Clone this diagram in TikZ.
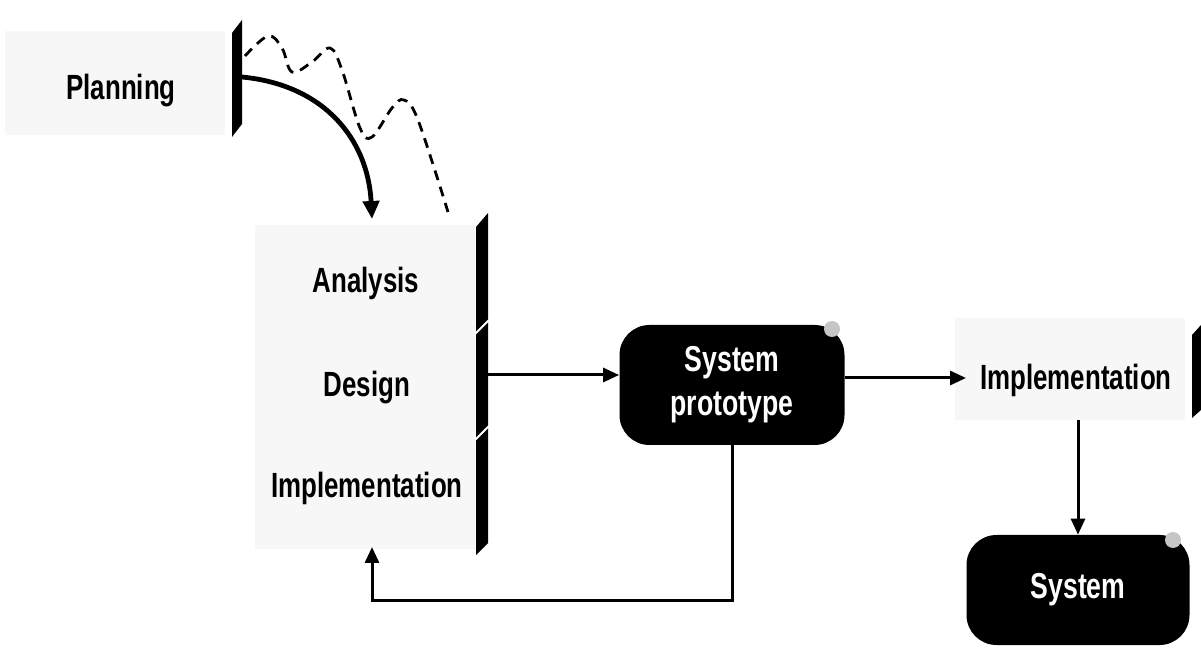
\documentclass[tikz,border=0pt]{standalone}
\usepackage{fontspec}
\setmainfont{Liberation Sans}[FakeStretch=0.74]
\usetikzlibrary{arrows.meta}
\begin{document}
\begin{tikzpicture}[x=0.5pt,y=-0.5pt,
  lbl/.style={font=\bfseries\fontsize{17.5}{20}\selectfont, inner sep=0pt, anchor=base},
  stip/.style={fill=gray!6, draw=none, inner sep=0pt},
  bar/.style={fill=black},
  blackbox/.style={fill=black, text=white, rounded corners=15pt, inner sep=0pt,
    font=\bfseries\fontsize{18}{22}\selectfont, align=center},
  arr/.style={line width=1.5pt, -{Triangle[length=8pt,width=7pt]}},
  bigarr/.style={line width=2.4pt, -{Triangle[length=9pt,width=8pt]}},
  wavy/.style={line width=1.4pt, dash pattern=on 5pt off 3.5pt}
]
\useasboundingbox (0,0) rectangle (1201,652);

% stippled backgrounds
\node[stip, minimum width=110pt, minimum height=52pt] (planbg) at (115,83) {};
\node[stip, minimum width=110pt, minimum height=162pt] (adibg) at (365,387) {};
\node[stip, minimum width=115pt, minimum height=51pt] (implbg) at (1070,369) {};

% bars
\fill[bar] (232,33) -- (242,20) -- (242,124) -- (232,137) -- cycle;
\fill[bar] (476,227) -- (488,213) -- (488,543) -- (476,555) -- cycle;
\draw[white, line width=1pt] (475,334) -- (489,320);
\draw[white, line width=1pt] (475,440) -- (489,426);
\fill[bar] (1192,335) -- (1201,325) -- (1201,410) -- (1192,418) -- cycle;

% labels
\node[lbl] (plan) at (121,100) {Planning};
\node[lbl] (ana) at (366,293) {Analysis};
\node[lbl] (des) at (367,397) {Design};
\node[lbl] (impL) at (367,498) {Implementation};
\node[lbl] (impR) at (1076,390) {Implementation};

% black boxes
\node[blackbox, minimum width=112.5pt, minimum height=60pt] (proto) at (732,385) {System\\prototype};
\node[blackbox, minimum width=111.5pt, minimum height=55pt] (sys) at (1078,590) {System};
\fill[gray!45] (832,329) circle (4pt);
\fill[gray!45] (1173,540) circle (4pt);

% coordinates
\coordinate (pbar) at (242,77);
\coordinate (adtop) at (372,219);
\coordinate (wstart) at (245,56);
\coordinate (lbar) at (488,375);
\coordinate (pe) at (845,378);
\coordinate (ire) at (966,378);
\coordinate (irb) at (1078,420);
\coordinate (fbc) at (372,600);
\coordinate (adbot) at (372,547);

% connectors
\draw[bigarr] (pbar) .. controls (325,85) and (368,140) .. (adtop);
\draw[wavy] plot[smooth, tension=0.6] coordinates {(wstart) (268,36) (282,48) (292,72) (312,62) (330,48) (342,70) (360,128) (372,137) (392,108) (404,100) (418,120) (448,212)};
\draw[arr] (lbar) -- (lbar -| proto.west);
\draw[arr] (pe) -- (ire);
\draw[arr] (irb) -- (sys.north);
\draw[arr] (proto.south) |- (fbc) -- (adbot);
\end{tikzpicture}
\end{document}
